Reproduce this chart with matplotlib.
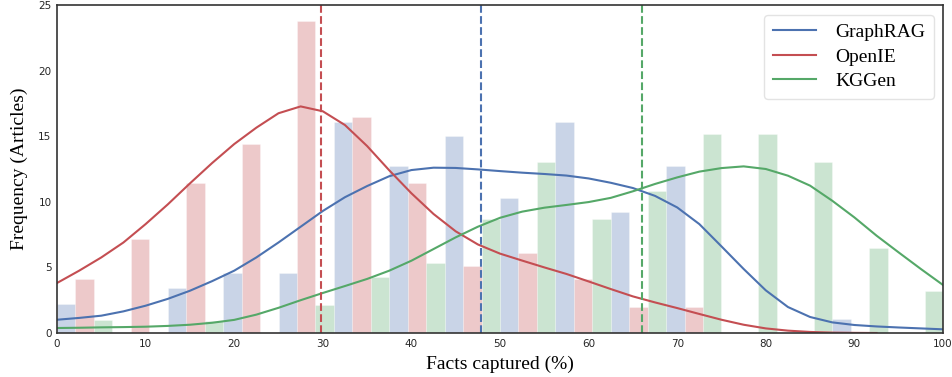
import numpy as np
import matplotlib.pyplot as plt

# histogram bins (16 bins of 6.25 between 0 and 100)
bin_edges = np.linspace(0, 100, 17)
graphrag_counts = [2.2, 0, 3.4, 4.6, 4.6, 16.1, 12.7, 15.0, 10.3, 16.1, 9.2, 12.7, 0, 0, 1.1, 0]
openie_counts = [4.1, 7.2, 11.4, 14.4, 23.8, 16.5, 11.4, 5.1, 6.1, 4.1, 2.0, 2.0, 0, 0, 0, 0]
kggen_counts = [1.0, 0, 0.9, 0, 2.1, 4.3, 5.3, 8.7, 13.0, 8.7, 10.8, 15.2, 15.2, 13.0, 6.5, 3.2]

# kde curves, every 2.5 points
kde_x = np.arange(0, 100.1, 2.5)
graphrag_kde = [1.01, 1.15, 1.32, 1.65, 2.08, 2.6, 3.22, 3.95, 4.75, 5.76, 6.9, 8.1, 9.3,
                10.35, 11.2, 11.95, 12.42, 12.6, 12.58, 12.47, 12.34, 12.22, 12.12, 12.0,
                11.78, 11.45, 11.05, 10.45, 9.57, 8.3, 6.6, 4.88, 3.25, 1.98, 1.22, 0.81,
                0.61, 0.5, 0.42, 0.35, 0.28]
openie_kde = [3.81, 4.75, 5.76, 6.9, 8.3, 9.8, 11.4, 12.95, 14.4, 15.65, 16.75, 17.27, 16.9,
              15.85, 14.25, 12.4, 10.65, 9.07, 7.75, 6.75, 6.05, 5.52, 5.0, 4.5, 3.93, 3.35,
              2.79, 2.33, 1.9, 1.45, 1.01, 0.63, 0.35, 0.18, 0.08, 0.03, 0.01, 0.0,
              np.nan, np.nan, np.nan]
kggen_kde = [0.38, 0.4, 0.43, 0.45, 0.48, 0.54, 0.63, 0.78, 1.0, 1.4, 1.92, 2.5, 3.05, 3.58,
             4.12, 4.75, 5.51, 6.4, 7.29, 8.1, 8.78, 9.25, 9.55, 9.76, 9.98, 10.3, 10.8,
             11.36, 11.86, 12.3, 12.57, 12.7, 12.5, 11.99, 11.23, 10.08, 8.81, 7.42, 6.14,
             4.88, 3.66]

means = {"GraphRAG": 47.9, "OpenIE": 29.8, "KGGen": 66.0}
names = ["GraphRAG", "OpenIE", "KGGen"]
colors = ["#4C72B0", "#C44E52", "#55A868"]
counts = [graphrag_counts, openie_counts, kggen_counts]
kdes = [graphrag_kde, openie_kde, kggen_kde]

fig = plt.figure(figsize=(9.53, 3.77), dpi=100)
ax = fig.add_axes([57/953, 1-333/377, 886/953, 328/377])

bw = (bin_edges[1] - bin_edges[0]) / 3
for i in range(3):
    ax.bar(bin_edges[:-1] + i*bw, counts[i], width=bw, align='edge',
           color=colors[i], alpha=0.3, edgecolor='white', linewidth=0.8)
for i in range(3):
    ax.plot(kde_x, kdes[i], color=colors[i], lw=1.5, label=names[i])
for i in range(3):
    ax.axvline(means[names[i]], color=colors[i], ls='--', lw=1.5)

ax.set_xlim(0, 100)
ax.set_ylim(0, 25)
ax.set_xticks(range(0, 101, 10))
ax.set_yticks(range(0, 26, 5))
ax.tick_params(labelsize=7.5, length=0, pad=4, colors='#262626')
for s in ax.spines.values():
    s.set_color('#333333')
    s.set_linewidth(1.2)

ax.set_xlabel("Facts captured (%)", family='Liberation Serif', fontsize=14, labelpad=5)
ax.set_ylabel("Frequency (Articles)", family='Liberation Serif', fontsize=14, labelpad=7)
leg = ax.legend(prop={'family': 'Liberation Serif', 'size': 14}, loc='upper right',
                bbox_to_anchor=(0.99, 0.97), borderaxespad=0,
                handlelength=2.2, handletextpad=1.0, borderpad=0.45, labelspacing=0.35,
                frameon=True, fancybox=True, edgecolor='#dddddd')

fig.savefig("out.png", dpi=100)
